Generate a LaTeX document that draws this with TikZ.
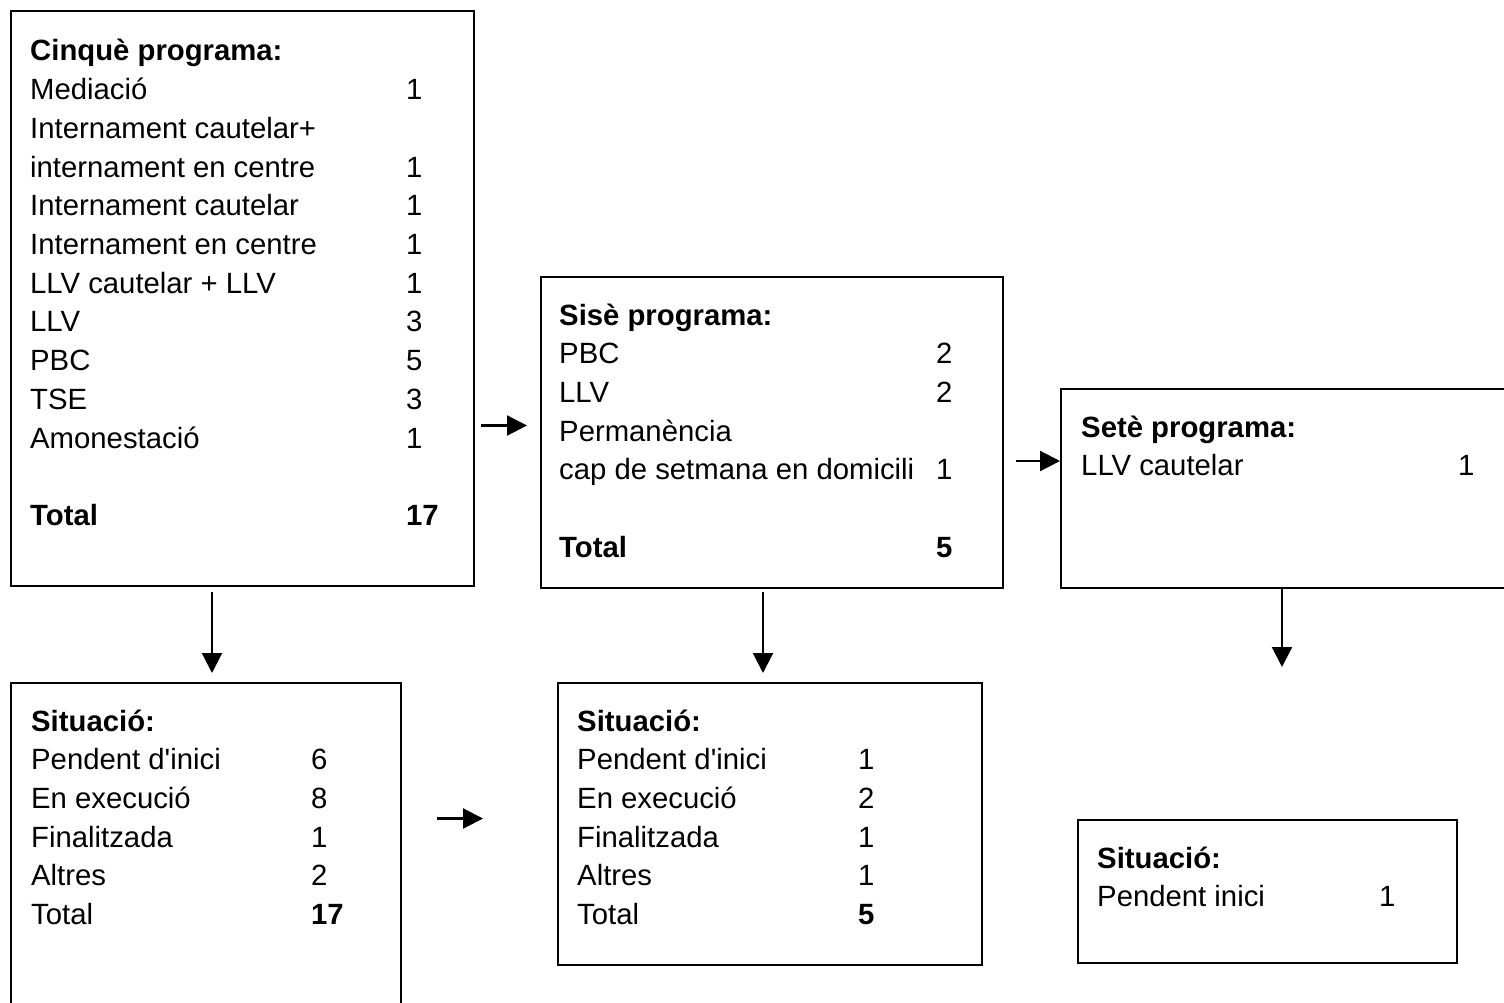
\documentclass[tikz,border=0pt]{standalone}
\usepackage{fontspec}
\setmainfont{Liberation Sans}
\usetikzlibrary{arrows.meta}
\begin{document}
\begin{tikzpicture}[x=1pt,y=-1pt,
 box/.style={draw, line width=1.8pt, inner sep=0pt, anchor=north west},
 txt/.style={anchor=base west, inner sep=0pt, font=\fontsize{29.3}{35}\selectfont},
 hd/.style={anchor=base west, inner sep=0pt, font=\fontsize{29.3}{35}\selectfont\bfseries},
 arr/.style={line width=2.2pt, -{Triangle[length=20pt,width=20pt]}}]
\useasboundingbox (0,0) rectangle (1504,1003);
% boxes
\node[box, minimum width=463pt, minimum height=575pt] (A) at (10,10) {};
\node[box, minimum width=462pt, minimum height=311pt] (B) at (540,276) {};
\node[box, minimum width=470pt, minimum height=199pt] (C) at (1060,388) {};
\node[box, minimum width=390pt, minimum height=340pt] (D) at (10,682) {};
\node[box, minimum width=424pt, minimum height=282pt] (E) at (557,682) {};
\node[box, minimum width=379pt, minimum height=143pt] (F) at (1077,819) {};
% box A
\node[hd]  (a0) at (30,61) {Cinquè programa:};
\node[txt] (a1) at (30,99.7) {Mediació};
\node[txt] (a1n) at (406,99.7) {1};
\node[txt] (a2) at (30,138.4) {Internament cautelar+};
\node[txt] (a3) at (30,177.1) {internament en centre};
\node[txt] (a3n) at (406,177.1) {1};
\node[txt] (a4) at (30,215.8) {Internament cautelar};
\node[txt] (a4n) at (406,215.8) {1};
\node[txt] (a5) at (30,254.5) {Internament en centre};
\node[txt] (a5n) at (406,254.5) {1};
\node[txt] (a6) at (30,293.2) {LLV cautelar + LLV};
\node[txt] (a6n) at (406,293.2) {1};
\node[txt] (a7) at (30,331.9) {LLV};
\node[txt] (a7n) at (406,331.9) {3};
\node[txt] (a8) at (30,370.6) {PBC};
\node[txt] (a8n) at (406,370.6) {5};
\node[txt] (a9) at (30,409.3) {TSE};
\node[txt] (a9n) at (406,409.3) {3};
\node[txt] (a10) at (30,448) {Amonestació};
\node[txt] (a10n) at (406,448) {1};
\node[hd]  (a11) at (30,525.4) {Total};
\node[hd]  (a11n) at (406,525.4) {17};
% box B
\node[hd]  (b0) at (559,325) {Sisè programa:};
\node[txt] (b1) at (559,363.7) {PBC};
\node[txt] (b1n) at (936,363.7) {2};
\node[txt] (b2) at (559,402.4) {LLV};
\node[txt] (b2n) at (936,402.4) {2};
\node[txt] (b3) at (559,441.1) {Permanència};
\node[txt] (b4) at (559,479.8) {cap de setmana en domicili};
\node[txt] (b4n) at (936,479.8) {1};
\node[hd]  (b5) at (559,557.2) {Total};
\node[hd]  (b5n) at (936,557.2) {5};
% box C
\node[hd]  (c0) at (1081,437) {Setè programa:};
\node[txt] (c1) at (1081,475.5) {LLV cautelar};
\node[txt] (c1n) at (1458,475.5) {1};
% box D
\node[hd]  (d0) at (31,731) {Situació:};
\node[txt] (d1) at (31,769.7) {Pendent d\textquotesingle inici};
\node[txt] (d1n) at (311,769.7) {6};
\node[txt] (d2) at (31,808.4) {En execució};
\node[txt] (d2n) at (311,808.4) {8};
\node[txt] (d3) at (31,847.1) {Finalitzada};
\node[txt] (d3n) at (311,847.1) {1};
\node[txt] (d4) at (31,885.8) {Altres};
\node[txt] (d4n) at (311,885.8) {2};
\node[txt] (d5) at (31,924.5) {Total};
\node[hd]  (d5n) at (311,924.5) {17};
% box E
\node[hd]  (e0) at (577,731) {Situació:};
\node[txt] (e1) at (577,769.7) {Pendent d\textquotesingle inici};
\node[txt] (e1n) at (858,769.7) {1};
\node[txt] (e2) at (577,808.4) {En execució};
\node[txt] (e2n) at (858,808.4) {2};
\node[txt] (e3) at (577,847.1) {Finalitzada};
\node[txt] (e3n) at (858,847.1) {1};
\node[txt] (e4) at (577,885.8) {Altres};
\node[txt] (e4n) at (858,885.8) {1};
\node[txt] (e5) at (577,924.5) {Total};
\node[hd]  (e5n) at (858,924.5) {5};
% box F
\node[hd]  (f0) at (1097,868) {Situació:};
\node[txt] (f1) at (1097,906.5) {Pendent inici};
\node[txt] (f1n) at (1379,906.5) {1};
% arrow endpoints
\coordinate (ab1) at (481,425.5);
\coordinate (ab2) at (527,425.5);
\coordinate (bc1) at (1016,461);
\coordinate (bc2) at (1060,461);
\coordinate (de1) at (437,818.5);
\coordinate (de2) at (483,818.5);
\coordinate (ad1) at (212,592);
\coordinate (ad2) at (212,673);
\coordinate (be1) at (763,592);
\coordinate (be2) at (763,673);
\coordinate (cf1) at (1282,587);
\coordinate (cf2) at (1282,667);
\draw[arr] (ab1) -- (ab2);
\draw[arr] (bc1) -- (bc2);
\draw[arr] (de1) -- (de2);
\draw[arr] (ad1) -- (ad2);
\draw[arr] (be1) -- (be2);
\draw[arr] (cf1) -- (cf2);
\end{tikzpicture}
\end{document}
